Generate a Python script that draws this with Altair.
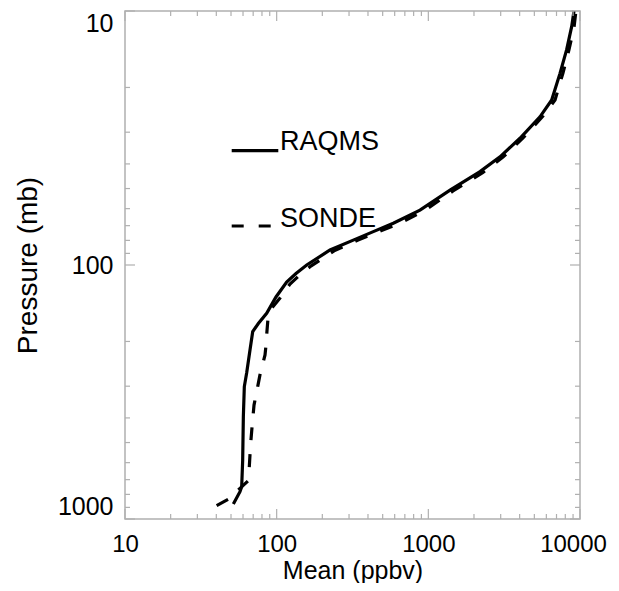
import altair as alt
import pandas as pd

# ---- data ----
series_names = ["RAQMS", "SONDE"]

raqms_p = [873, 781, 746, 586, 396, 301, 266, 216, 183, 170, 155, 133.6, 116.7, 108,
           100, 87.3, 79.8, 73.9, 68.5, 60.8, 50.7, 42.9, 37.5, 31.7, 26.1, 22.4,
           17.6, 14.2, 11.5, 10]
raqms_v = [51.8, 57.3, 58.8, 59.7, 60.3, 61.2, 63.4, 66.7, 69.5, 75.7, 85.9, 99,
           116.4, 134.1, 157.8, 224.8, 320, 433.6, 587.5, 881, 1390, 2192, 2969,
           4019, 5446, 6508, 7382, 8166, 8816, 9128]

sonde_p = [886, 836, 708, 624, 516, 434, 356, 297, 271, 226, 206, 182, 162, 147.6,
           134.9, 118.8, 109.4, 101, 88, 79.8, 74.1, 69, 61.3, 51.1, 43.2, 37.6, 31.6,
           25.9, 22.4, 17.5, 14.2, 11.6, 10]
sonde_v = [40.2, 48.0, 64.7, 66.0, 67.2, 68.8, 70.9, 75.3, 77.6, 83.8, 85.1, 86.3,
           87.7, 93.1, 105.2, 122.4, 142.5, 168, 239, 344, 466, 631, 936, 1455, 2293,
           3105, 4210, 5700, 6845, 7730, 8460, 9130, 9400]

x_major = [10, 100, 1000, 10000]
x_minor = [20, 30, 40, 50, 60, 70, 80, 90,
           200, 300, 400, 500, 600, 700, 800, 900,
           2000, 3000, 4000, 5000, 6000, 7000, 8000, 9000]
y_major = [10, 100, 1000]
y_minor = [20, 30, 40, 50, 60, 70, 80, 90,
           200, 300, 400, 500, 600, 700, 800, 900]

# ---- styling ----
W, H = 455, 508
FONT = "Liberation Sans"
FRAME = "#b0b0b0"
MAJ, MIN = 10, 5

raqms_df = pd.DataFrame({"p": raqms_p, "v": raqms_v, "i": range(len(raqms_p))})
sonde_df = pd.DataFrame({"p": sonde_p, "v": sonde_v, "i": range(len(sonde_p))})

xscale = alt.Scale(type="log", domain=[10, 10000], nice=False)
yscale = alt.Scale(type="log", domain=[10, 1000], nice=False, reverse=True)

xaxis = alt.Axis(values=x_major, format="d", grid=False, ticks=False, domain=False,
                 labelFont=FONT, labelFontSize=24, labelFontWeight="normal",
                 labelColor="black", labelPadding=13, labelFlush=False,
                 labelOffset={"condition": {"test": "datum.value >= 10000", "value": -7},
                              "value": 0},
                 title="Mean (ppbv)", titleFont=FONT, titleFontSize=25,
                 titleFontWeight="normal", titleColor="black",
                 titleBaseline="alphabetic", titleY=59)
yaxis = alt.Axis(values=y_major, format="d", grid=False, ticks=False, domain=False,
                 labelFont=FONT, labelFontSize=25, labelFontWeight="normal",
                 labelColor="black", labelPadding=12, labelFlush=True,
                 title="Pressure (mb)", titleFont=FONT, titleFontSize=28,
                 titleFontWeight="normal", titleColor="black",
                 titleBaseline="alphabetic", titleX=-89)

raqms = alt.Chart(raqms_df).mark_line(color="black", strokeWidth=3.2).encode(
    x=alt.X("v:Q", scale=xscale, axis=xaxis),
    y=alt.Y("p:Q", scale=yscale, axis=yaxis),
    order="i:Q",
)
sonde = alt.Chart(sonde_df).mark_line(color="black", strokeWidth=3.2,
                                      strokeDash=[13, 14]).encode(
    x=alt.X("v:Q", scale=xscale),
    y=alt.Y("p:Q", scale=yscale),
    order="i:Q",
)


def xticks(vals, length):
    df = pd.DataFrame({"v": vals})
    base = alt.Chart(df).mark_rule(color=FRAME, strokeWidth=1.2)
    bottom = base.encode(x=alt.X("v:Q", scale=xscale),
                         y=alt.value(H), y2=alt.value(H - length))
    top = base.encode(x=alt.X("v:Q", scale=xscale),
                      y=alt.value(0), y2=alt.value(length))
    return [bottom, top]


def yticks(vals, length):
    df = pd.DataFrame({"p": vals})
    base = alt.Chart(df).mark_rule(color=FRAME, strokeWidth=1.2)
    left = base.encode(y=alt.Y("p:Q", scale=yscale),
                       x=alt.value(0), x2=alt.value(length))
    right = base.encode(y=alt.Y("p:Q", scale=yscale),
                        x=alt.value(W), x2=alt.value(W - length))
    return [left, right]


tick_layers = xticks(x_major, MAJ) + xticks(x_minor, MIN) + yticks(y_major, MAJ) + yticks(y_minor, MIN)

# ---- legend (hand-placed as in the reference) ----
leg1_df = pd.DataFrame({"name": [series_names[0]]})
leg2_df = pd.DataFrame({"name": [series_names[1]]})
leg1_line = alt.Chart(leg1_df).mark_rule(color="black", strokeWidth=3.2).encode(
    x=alt.value(106.7), x2=alt.value(153.3), y=alt.value(139.7))
leg1_text = alt.Chart(leg1_df).mark_text(align="left", baseline="alphabetic", font=FONT,
                                         fontSize=27, color="black").encode(
    x=alt.value(155), y=alt.value(139), text="name:N")
leg2_line = alt.Chart(leg2_df).mark_rule(color="black", strokeWidth=3.2,
                                         strokeDash=[12, 15]).encode(
    x=alt.value(106.7), x2=alt.value(153.3), y=alt.value(215))
leg2_text = alt.Chart(leg2_df).mark_text(align="left", baseline="alphabetic", font=FONT,
                                         fontSize=27, color="black").encode(
    x=alt.value(155), y=alt.value(215.7), text="name:N")

chart = alt.layer(
    raqms, sonde, *tick_layers, leg1_line, leg1_text, leg2_line, leg2_text
).properties(
    width=W, height=H,
    autosize=alt.AutoSizeParams(type="none"),
    padding={"left": 117, "top": 3, "right": 31, "bottom": 64},
    background="white",
).configure_view(stroke=FRAME, strokeWidth=1.5)

chart.save("out.html", embed_options={"renderer": "svg", "actions": False})
